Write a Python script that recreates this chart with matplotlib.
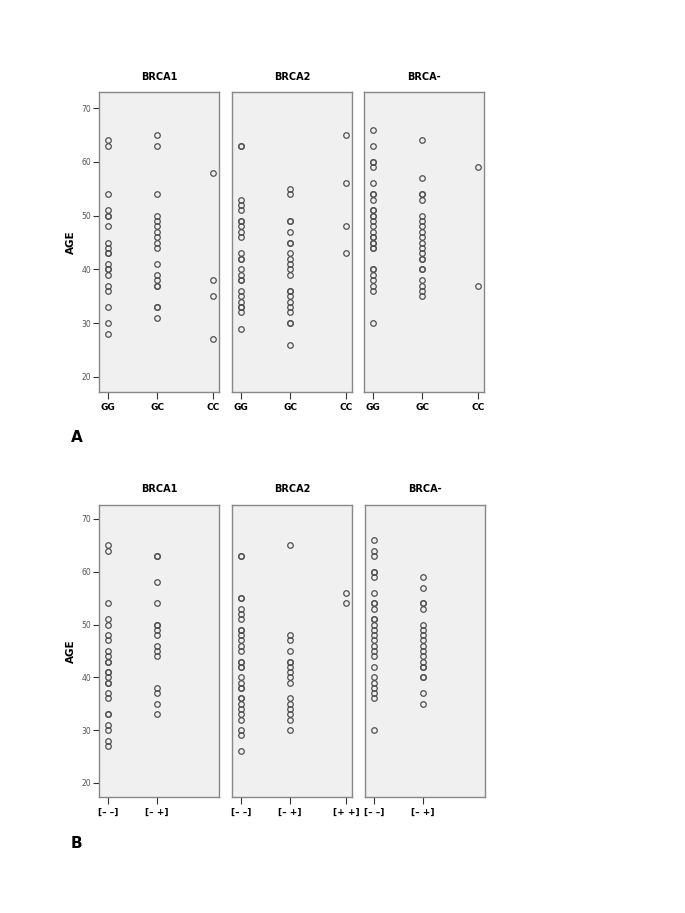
import numpy as np
import matplotlib.pyplot as plt

# panel A: genotype groups
groups_a = ['GG', 'GC', 'CC']
a_brca1_gg = [64, 63, 54, 51, 50, 50, 48, 45, 44, 43, 43, 41, 40, 40, 39, 37, 36, 33, 30, 28]
a_brca1_gc = [65, 63, 54, 50, 49, 48, 47, 46, 45, 44, 41, 39, 38, 37, 37, 33, 33, 31]
a_brca1_cc = [58, 38, 35, 27]
a_brca2_gg = [63, 63, 53, 52, 51, 49, 49, 48, 47, 46, 43, 42, 42, 40, 39, 38, 38, 36, 35, 34, 33, 33, 32, 29]
a_brca2_gc = [55, 54, 49, 49, 47, 45, 45, 43, 42, 41, 40, 39, 36, 36, 35, 34, 33, 32, 30, 30, 26]
a_brca2_cc = [65, 56, 48, 43]
a_brcan_gg = [66, 63, 60, 60, 59, 56, 54, 54, 53, 51, 51, 50, 50, 49, 48, 47, 46, 46,
              45, 45, 44, 44, 40, 40, 39, 38, 37, 36, 30]
a_brcan_gc = [64, 57, 54, 54, 53, 50, 49, 48, 47, 46, 45, 44, 43, 42, 42, 40, 40, 38, 37, 36, 35]
a_brcan_cc = [59, 37]

# panel B: mutation groups
groups_b = ['[\u2013 \u2013]', '[\u2013 +]', '[+ +]']
b_brca1_mm = [65, 64, 54, 51, 50, 48, 47, 45, 44, 43, 43, 41, 41, 40, 39, 39, 37, 36, 33, 33, 31, 30, 28, 27]
b_brca1_mp = [63, 63, 58, 54, 50, 50, 49, 48, 46, 45, 44, 38, 37, 35, 33]
b_brca1_pp = []
b_brca2_mm = [63, 63, 55, 55, 53, 52, 51, 49, 49, 48, 47, 46, 45, 43, 43, 42, 42, 40, 39,
              38, 38, 36, 36, 35, 34, 33, 32, 30, 29, 26]
b_brca2_mp = [65, 48, 47, 45, 43, 43, 42, 41, 40, 39, 36, 35, 34, 33, 32, 30]
b_brca2_pp = [56, 54]
b_brcan_mm = [66, 64, 63, 60, 60, 59, 56, 54, 54, 53, 51, 51, 50, 49, 48, 47, 46, 45, 44,
              42, 40, 39, 38, 37, 36, 30]
b_brcan_mp = [59, 57, 54, 54, 53, 50, 49, 48, 47, 46, 45, 44, 43, 42, 42, 40, 40, 37, 35]
b_brcan_pp = []

titles = ['BRCA1', 'BRCA2', 'BRCA-']
xpos = [0.075, 0.485, 0.95]

rows = [
    (groups_a, [[a_brca1_gg, a_brca1_gc, a_brca1_cc],
                [a_brca2_gg, a_brca2_gc, a_brca2_cc],
                [a_brcan_gg, a_brcan_gc, a_brcan_cc]],
     [0.1445, 0.3387, 0.5314], 0.5706, 0.3286, (17.2, 73.0), 'A', 0.521),
    (groups_b, [[b_brca1_mm, b_brca1_mp, b_brca1_pp],
                [b_brca2_mm, b_brca2_mp, b_brca2_pp],
                [b_brcan_mm, b_brcan_mp, b_brcan_pp]],
     [0.1445, 0.3387, 0.5328], 0.1271, 0.3198, (17.35, 72.65), 'B', 0.076),
]

fig = plt.figure(figsize=(6.85, 9.13), dpi=100)

for groups, data, lefts, bottom, height, ylim, letter, ly in rows:
    for i in range(3):
        ax = fig.add_axes([lefts[i], bottom, 0.1752, height])
        ax.set_facecolor('#f0f0f0')
        used = []
        for j in range(3):
            vals = data[i][j]
            if len(vals) == 0:
                continue
            used.append(j)
            ax.plot([xpos[j]] * len(vals), vals, 'o', mfc='none', mec='#505050',
                    ms=4, mew=0.9)
        ax.set_xlim(0, 1)
        ax.set_ylim(ylim)
        ax.set_xticks([xpos[j] for j in used])
        ax.set_xticklabels([groups[j] for j in used], fontsize=6.5, fontweight='bold')
        ax.tick_params(axis='x', length=5, width=0.8, color='#333333', pad=3)
        for s in ax.spines.values():
            s.set_color('#888888')
            s.set_linewidth(1.0)
        ax.set_title(titles[i], fontsize=7, fontweight='bold', pad=9)
        if i == 0:
            ax.set_yticks([20, 30, 40, 50, 60, 70])
            ax.tick_params(axis='y', length=4, width=0.8, color='#333333',
                           labelsize=5.5, labelcolor='#555555', pad=1.5)
            ax.set_ylabel('AGE', fontsize=7.5, fontweight='bold', labelpad=4)
        else:
            ax.set_yticks([])
    fig.text(0.103, ly, letter, fontsize=11, fontweight='bold', ha='left', va='center')

fig.savefig('out.png', dpi=100)
